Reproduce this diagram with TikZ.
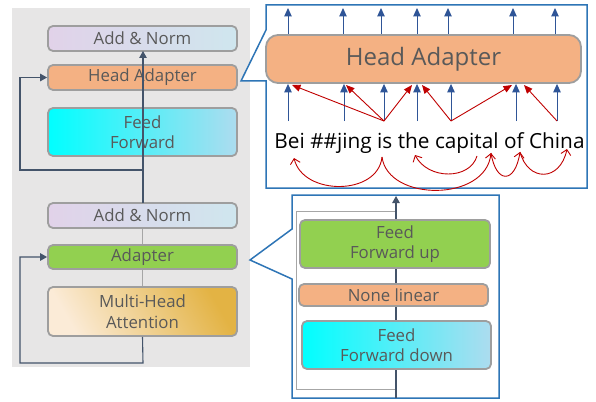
\documentclass[tikz,border=0pt]{standalone}
\usepackage{fontspec}
\setmainfont{Open Sans}
\usetikzlibrary{arrows.meta}
\definecolor{bgpanel}{HTML}{E7E6E6}
\definecolor{boxedge}{HTML}{9E9E9E}
\definecolor{labelgray}{HTML}{595959}
\definecolor{conn}{HTML}{44546A}
\definecolor{thingray}{HTML}{A6A6A6}
\definecolor{peach}{HTML}{F4B183}
\definecolor{leaf}{HTML}{92D050}
\definecolor{lav}{HTML}{E1D2E9}
\definecolor{paleblue}{HTML}{CFE6EE}
\definecolor{cyanL}{HTML}{00FFFF}
\definecolor{cyanR}{HTML}{ADDCEF}
\definecolor{sandL}{HTML}{FBEBD7}
\definecolor{sandR}{HTML}{E3B344}
\definecolor{callblue}{HTML}{2E75B6}
\definecolor{arrblue}{HTML}{2F5597}
\definecolor{deepred}{HTML}{C00000}
\tikzset{
  blk/.style={draw=boxedge, line width=1.8pt, rounded corners=5pt, text=labelgray,
    font=\fontsize{16.8}{20.5}\selectfont, align=center, inner sep=0pt},
  lbox/.style={blk, minimum width=189pt},
  normfill/.style={left color=lav, right color=paleblue},
  fffill/.style={left color=cyanL, right color=cyanR},
  mhafill/.style={left color=sandL, right color=sandR, shading angle=120},
  conn/.style={draw=conn, line width=1.1pt},
  tipc/.style={-{Triangle[length=7pt,width=7.5pt]}},
  gline/.style={draw=thingray, line width=1pt},
  callout/.style={draw=callblue, line width=1.5pt, fill=white, line join=miter},
  barrow/.style={draw=arrblue, line width=1pt, -{Triangle[length=8.5pt,width=7.5pt]}},
  rarrow/.style={draw=deepred, line width=0.9pt, -{Triangle[length=8.5pt,width=7pt]}},
  rcurve/.style={draw=deepred, line width=0.9pt, -{Straight Barb[length=5pt,width=10pt]}},
}
\begin{document}
\begin{tikzpicture}[x=1pt,y=-1pt]
\useasboundingbox (0,0) rectangle (596,401);

% grey encoder panel
\fill[bgpanel] (12,8) rectangle (250,367);

% ---- left column: transformer layer ----
\node[lbox, normfill] (an1) at (142.5,38.5) [minimum height=25pt] {Add \& Norm};
\node[lbox, fill=peach] (ha) at (142.5,77.5) [minimum height=25pt] {Head Adapter};
\node[lbox, fffill] (ff) at (142.5,132) [minimum height=48pt] {Feed\\Forward};
\node[lbox, normfill] (an2) at (142.5,215.5) [minimum height=25pt] {Add \& Norm};
\node[lbox, fill=leaf] (ad) at (142.5,257) [minimum height=24pt] {Adapter};
\node[lbox, mhafill] (mha) at (142.5,311.5) [minimum height=49pt] {Multi-Head\\Attention};

\coordinate (j1) at (143,170);
\coordinate (k1) at (20,77.5);
\coordinate (j2) at (143,363);
\coordinate (k2) at (20,257);
\coordinate (an1b) at (143,51);
\coordinate (an2t) at (143,203);

\draw[conn, tipc] (an2t) -- (an1b);
\draw[conn, tipc] (j1) -| (k1) -- (ha.west);
\draw[conn, tipc] (mha.south) -- (j2) -| (k2) -- (ad.west);
\draw[gline] (an2.south) -- (ad.north);
\draw[gline] (ad.south) -- (mha.north);

% ---- callout: head adapter detail ----
\draw[callout] (266,30) -- (266,5) -- (587,5) -- (587,188) -- (266,188) -- (266,81) -- (241,81) -- cycle;

\node[blk, fill=peach, rounded corners=12pt, minimum width=315pt, minimum height=48pt,
      font=\fontsize{24}{28}\selectfont] (hab) at (423.5,59) {Head Adapter};

\foreach \i/\x in {1/288,2/343,3/381,4/417,5/448,6/513,7/555}
  \coordinate (o\i) at (\x,8);
\foreach \i in {1,...,7}
  \draw[barrow] (o\i |- hab.north) -- (o\i);

\foreach \i/\x in {1/288,2/344,3/384,4/417,5/451,6/516,7/557}
  \coordinate (t\i) at (\x,121);
\foreach \i in {1,...,7}
  \draw[barrow] (t\i) -- (t\i |- hab.south);

\coordinate (r1) at (292,85);
\coordinate (r2) at (346,85);
\coordinate (r3) at (412,85);
\coordinate (r4) at (422,85);
\coordinate (r5) at (512,85);
\coordinate (r6) at (524,85);
\draw[rarrow] (t3) -- (r1);
\draw[rarrow] (t3) -- (r2);
\draw[rarrow] (t3) -- (r3);
\draw[rarrow] (t5) -- (r4);
\draw[rarrow] (t5) -- (r5);
\draw[rarrow] (t7) -- (r6);

\node[font=\fontsize{20.8}{24}\selectfont, inner sep=0pt] (sent) at (429.5,143) {Bei \#\#jing is the capital of China};

\coordinate (cis) at (382,157);
\coordinate (cbei) at (294,158);
\coordinate (ccapA) at (477,156);
\coordinate (ccapB) at (491,153);
\coordinate (cthe) at (415,155);
\coordinate (cof) at (520,152);
\coordinate (cchina) at (567,149);
\draw[rcurve] (cis) .. controls (378,196) and (303,196) .. (cbei);
\draw[rcurve] (cis) .. controls (388,202) and (486,202) .. (ccapB);
\draw[rcurve] (ccapA) .. controls (470,180) and (428,180) .. (cthe);
\draw[rcurve] (ccapB) .. controls (496,184) and (515,184) .. (cof);
\draw[rcurve] (cof) .. controls (528,182) and (560,182) .. (cchina);

% ---- callout: adapter detail ----
\draw[callout] (292,229) -- (292,195) -- (499,195) -- (499,398) -- (292,398) -- (292,279) -- (250,260) -- cycle;

\coordinate (b0) at (396,398);
\coordinate (b1) at (396,196);
\coordinate (g0) at (396,389);
\coordinate (g1) at (296,211);
\coordinate (g2) at (396,211);
\draw[gline] (g0) -| (g1) -- (g2);
\draw[conn, tipc] (b0) -- (b1);

\node[blk, fill=leaf, minimum width=190pt, minimum height=48pt] (ffu) at (395,244) {Feed\\Forward up};
\node[blk, fill=peach, minimum width=189pt, minimum height=22pt] (nl) at (393.5,295) {None linear};
\node[blk, fffill, minimum width=189pt, minimum height=48pt] (ffd) at (396.5,345) {Feed\\Forward down};
\end{tikzpicture}
\end{document}
